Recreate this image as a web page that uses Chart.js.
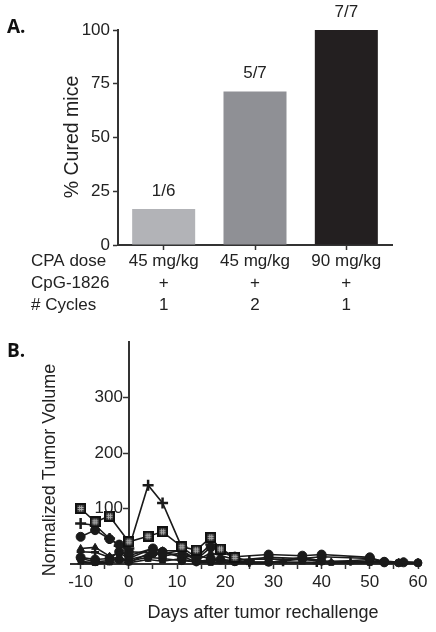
<!DOCTYPE html>
<html>
<head>
<meta charset="utf-8">
<script src="https://cdn.jsdelivr.net/npm/chart.js@4"></script>
<style>
  body { margin: 0; background: #fff; }
  #wrap { position: relative; width: 436px; height: 632px; }
  canvas { position: absolute; left: 0; }
</style>
</head>
<body>
<div id="wrap">
  <canvas id="cured" width="436" height="320" style="top:0"></canvas>
  <canvas id="tumor" width="436" height="312" style="top:320px"></canvas>
</div>
<script>
// Panel A
const doseLabels = ['45 mg/kg', '45 mg/kg', '90 mg/kg'];
const cpgLabels = ['+', '+', '+'];
const cycleLabels = ['1', '2', '1'];
const rowNames = ['CPA dose', 'CpG-1826', '# Cycles'];
const curedPct = [16.7, 71.4, 100];
const curedFrac = ['1/6', '5/7', '7/7'];
const barColors = ['#b2b3b7', '#8f9095', '#231f20'];
const pctTicks = [0, 25, 50, 75, 100];

// Panel B: [day, normalized volume] per mouse
const mouse1 = [[-10,100],[-7,76],[-4,86],[0,40],[4,50],[7,58],[11,31],[14,25],[17,48],[19,27],[22,12]];
const mouse2 = [[-10,73],[-7,70],[-4,46],[-2,33],[0,28],[4,142],[7,110],[11,30],[14,12],[17,35],[19,22],[22,12],[25,5]];
const mouse3 = [[-10,49],[-7,61],[-4,45],[-2,35],[0,22],[5,20],[7,18],[11,25],[14,8],[17,30],[19,27],[22,13],[29,17],[36,15],[40,17],[50,12],[53,3]];
const mouse4 = [[-10,28],[-7,30],[-4,14],[-2,20],[0,10],[5,28],[7,24],[11,24],[14,6],[17,20],[22,8],[29,9],[36,8],[42,4],[50,8],[56,3],[60,2]];
const mouse5 = [[-10,22],[-7,21],[-4,12],[-2,10],[0,8],[5,18],[7,20],[11,15],[14,3],[17,6],[22,5],[25,3],[32,3],[39,2],[46,4],[53,3],[57,4],[60,3]];
const mouse6 = [[-10,10],[-7,4],[-4,6],[-2,8],[0,5],[4,12],[7,10],[11,6],[14,4],[17,8],[22,4],[29,3],[36,9],[40,5],[50,5],[56,2],[60,2]];
const mouse7 = [[-10,5],[-7,2],[-4,3],[-2,14],[0,3],[5,22],[7,14],[11,20],[14,8],[17,2],[22,3],[29,2],[36,12],[42,2],[50,2]];
const mouse8 = [[-10,3],[-7,1],[-4,2],[-2,5],[0,2],[4,8],[7,5],[11,10],[14,2],[17,3],[22,2],[25,2],[29,3],[36,3],[40,3],[46,3],[53,2],[60,1]];
const mouse9 = [[-10,12],[-7,8],[-4,10],[-2,22],[0,15],[5,28],[7,22],[11,12],[14,15],[17,10],[19,8],[22,6],[29,12],[36,10],[40,13],[50,10],[53,4],[57,3]];
const dayTicks = [-10, 0, 10, 20, 30, 40, 50, 60];
const volTicks = [100, 200, 300];

const FONT = "'Liberation Sans', Arial, sans-serif";
Chart.defaults.font.family = FONT;
Chart.defaults.color = '#222';
const AXIS = '#333';

function hatchSquare(size) {
  const c = document.createElement('canvas');
  c.width = c.height = size;
  const g = c.getContext('2d');
  g.fillStyle = '#111';
  g.fillRect(0, 0, size, size);
  g.fillStyle = '#3a3a3a';
  g.fillRect(2, 2, size - 4, size - 4);
  g.strokeStyle = '#aaa';
  g.lineWidth = 1;
  [4.5, 6.5].forEach(p => {
    g.beginPath();
    g.moveTo(p, 2.5); g.lineTo(p, size - 2.5);
    g.moveTo(2.5, p); g.lineTo(size - 2.5, p);
    g.stroke();
  });
  return c;
}

const panelA = {
  id: 'panelA',
  afterDraw(chart) {
    const ctx = chart.ctx;
    ctx.save();
    ctx.fillStyle = '#111';
    ctx.font = "bold 19px 'Open Sans', sans-serif";
    ctx.textBaseline = 'alphabetic';
    ctx.textAlign = 'left';
    ctx.fillText('A.', 7, 33);
    ctx.fillStyle = '#222';
    ctx.font = '17px ' + FONT;
    ctx.textBaseline = 'middle';
    rowNames.forEach((t, i) => ctx.fillText(t, 31, 261 + i * 22));
    ctx.textAlign = 'center';
    ctx.textBaseline = 'alphabetic';
    chart.getDatasetMeta(0).data.forEach((bar, i) => ctx.fillText(curedFrac[i], bar.x, bar.y - 13));
    ctx.translate(78, 137);
    ctx.rotate(-Math.PI / 2);
    ctx.font = '19.5px ' + FONT;
    ctx.fillText('% Cured mice', 0, 0);
    ctx.restore();
  }
};

new Chart(document.getElementById('cured'), {
  type: 'bar',
  data: {
    labels: doseLabels.map((d, i) => [d, cpgLabels[i], cycleLabels[i]]),
    datasets: [{
      data: curedPct,
      backgroundColor: barColors,
      barPercentage: 0.69,
      categoryPercentage: 1
    }]
  },
  options: {
    responsive: false,
    animation: false,
    layout: { padding: { left: 0, top: 30, right: 44, bottom: 0 } },
    plugins: { legend: { display: false }, tooltip: { enabled: false } },
    scales: {
      x: {
        afterFit: s => { s.height = 75; },
        ticks: { font: { size: 17, lineHeight: 22 / 17 }, padding: 0, maxRotation: 0, color: '#222' },
        grid: { offset: false, drawOnChartArea: false, tickLength: 5, tickWidth: 1.5, tickColor: AXIS },
        border: { color: AXIS, width: 2 }
      },
      y: {
        min: 0, max: 100,
        afterFit: s => { s.width = 118; },
        afterBuildTicks: s => { s.ticks = pctTicks.map(v => ({ value: v })); },
        ticks: { font: { size: 17 }, padding: 3, color: '#222' },
        grid: { drawOnChartArea: false, tickLength: 5, tickWidth: 1.5, tickColor: AXIS },
        border: { color: AXIS, width: 2 }
      }
    }
  },
  plugins: [panelA]
});

const panelB = {
  id: 'panelB',
  afterDraw(chart) {
    const ctx = chart.ctx;
    const y = chart.scales.y;
    const x0 = chart.scales.x.getPixelForValue(0);
    ctx.save();
    ctx.fillStyle = '#222';
    ctx.font = '17px ' + FONT;
    ctx.textAlign = 'right';
    ctx.textBaseline = 'middle';
    volTicks.forEach(v => ctx.fillText(String(v), x0 - 6, y.getPixelForValue(v)));
    ctx.fillStyle = '#111';
    ctx.font = "bold 19px 'Open Sans', sans-serif";
    ctx.textAlign = 'left';
    ctx.textBaseline = 'alphabetic';
    ctx.fillText('B.', 7, 37);
    ctx.fillStyle = '#222';
    ctx.font = '18px ' + FONT;
    ctx.textAlign = 'center';
    ctx.fillText('Days after tumor rechallenge', 263, 298);
    ctx.translate(55, 150);
    ctx.rotate(-Math.PI / 2);
    ctx.fillText('Normalized Tumor Volume', 0, 0);
    ctx.restore();
  }
};

const square = hatchSquare(11);
const mice = [mouse1, mouse2, mouse3, mouse4, mouse5, mouse6, mouse7, mouse8, mouse9];
const markers = [square, 'cross', 'circle', 'triangle', 'cross', 'circle', 'rect', 'triangle', 'circle'];
const radii = [5.5, 5.5, 4.5, 4, 4, 4, 3.5, 3.5, 4.5];

new Chart(document.getElementById('tumor'), {
  type: 'line',
  data: {
    datasets: mice.map((m, i) => ({
      data: m.map(p => ({ x: p[0], y: p[1] })),
      borderColor: '#1a1a1a',
      backgroundColor: '#1a1a1a',
      borderWidth: 1.6,
      pointStyle: markers[i],
      pointRadius: radii[i],
      pointBorderWidth: markers[i] === 'cross' ? 2.5 : 1,
      pointBorderColor: '#1a1a1a',
      pointBackgroundColor: '#1a1a1a',
      clip: false
    }))
  },
  options: {
    responsive: false,
    animation: false,
    layout: { padding: { left: 71, top: 22, right: 18, bottom: 0 } },
    plugins: { legend: { display: false }, tooltip: { enabled: false } },
    scales: {
      x: {
        type: 'linear', min: -12, max: 60,
        afterFit: s => { s.height = 68; },
        afterBuildTicks: s => {
          const t = [];
          for (let v = -10; v <= 60; v += 5) t.push({ value: v });
          s.ticks = t;
        },
        ticks: {
          autoSkip: false, maxRotation: 0, padding: 3, font: { size: 17 }, color: '#222',
          callback: v => dayTicks.includes(v) ? String(v) : ''
        },
        grid: { drawOnChartArea: false, tickLength: 5, tickWidth: 1.5, tickColor: AXIS },
        border: { color: AXIS, width: 2 }
      },
      y: {
        min: 0, max: 400,
        position: { x: 0 },
        afterBuildTicks: s => { s.ticks = volTicks.map(v => ({ value: v })); },
        ticks: { display: false },
        grid: { drawOnChartArea: false, tickLength: 5, tickWidth: 1.5, tickColor: AXIS },
        border: { color: AXIS, width: 2 }
      }
    }
  },
  plugins: [panelB]
});
</script>
</body>
</html>
